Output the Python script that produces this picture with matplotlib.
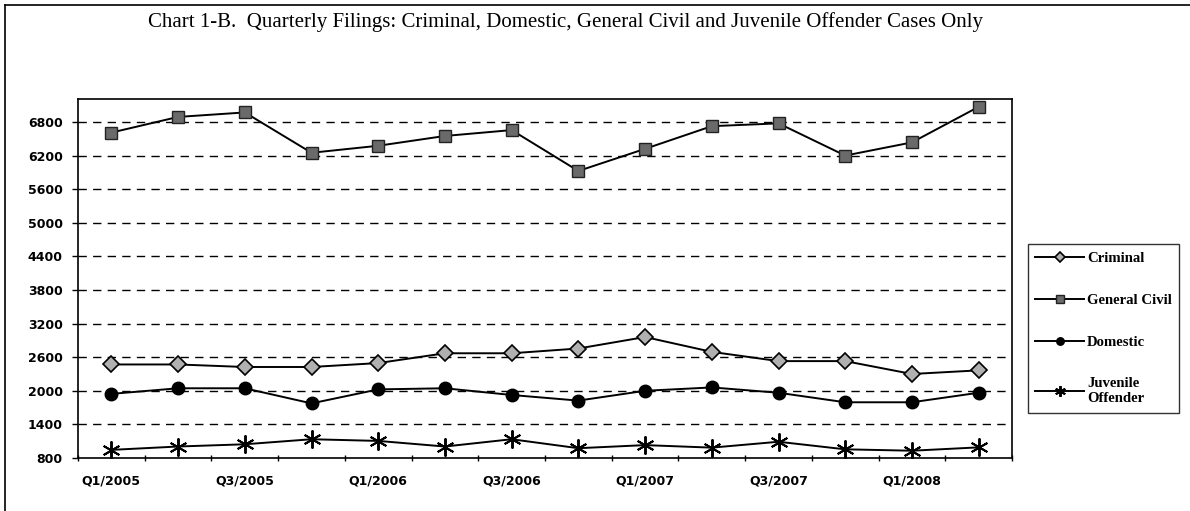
import matplotlib
matplotlib.use("Agg")
import matplotlib.pyplot as plt
from matplotlib.lines import Line2D

quarters = ["Q1/2005", "Q2/2005", "Q3/2005", "Q4/2005",
            "Q1/2006", "Q2/2006", "Q3/2006", "Q4/2006",
            "Q1/2007", "Q2/2007", "Q3/2007", "Q4/2007",
            "Q1/2008", "Q2/2008"]
criminal = [2470, 2470, 2425, 2425, 2495, 2670, 2670, 2755, 2960, 2695, 2530, 2530, 2300, 2365]
general_civil = [6610, 6890, 6970, 6250, 6375, 6550, 6655, 5925, 6320, 6725, 6775, 6200, 6435, 7070]
domestic = [1945, 2045, 2045, 1775, 2025, 2045, 1925, 1825, 2000, 2060, 1965, 1795, 1795, 1965]
juvenile = [945, 1005, 1045, 1135, 1105, 1005, 1135, 975, 1030, 985, 1090, 955, 930, 990]
yticks = [800, 1400, 2000, 2600, 3200, 3800, 4400, 5000, 5600, 6200, 6800]
title = "Chart 1-B.  Quarterly Filings: Criminal, Domestic, General Civil and Juvenile Offender Cases Only"

W, H = 1190, 511
fig = plt.figure(figsize=(W / 100, H / 100), dpi=100)
ax = fig.add_axes([78 / W, 1 - 458 / H, (1012 - 78) / W, (458 - 99) / H])

x = list(range(len(quarters)))
lw = 1.4
ax.plot(x, general_civil, color="black", lw=lw, marker="s", ms=9,
        mfc="#6a6a6a", mec="#222222", mew=1.0, label="General Civil", zorder=3)
ax.plot(x, criminal, color="black", lw=lw, marker="D", ms=8,
        mfc="#b0b0b0", mec="black", mew=1.2, label="Criminal", zorder=3)
ax.plot(x, domestic, color="black", lw=lw, marker="o", ms=9,
        mfc="black", mec="black", label="Domestic", zorder=3)
ax.plot(x, juvenile, color="black", lw=lw, marker=(6, 2, 0), ms=13,
        mfc="black", mec="black", mew=1.4, label="Juvenile\nOffender", zorder=3)

ax.set_xlim(-0.5, len(quarters) - 0.5)
ax.set_ylim(800, 7210)
ax.set_yticks(yticks)
ax.set_yticklabels([str(v) for v in yticks], fontweight="bold", fontsize=9)
for v in yticks[1:]:
    ax.axhline(v, color="black", lw=1.0, ls=(0, (6, 4.5)), zorder=1)

ax.set_xticks(x[::2])
ax.set_xticklabels(quarters[::2], fontweight="bold", fontsize=9)
ax.set_xticks([i - 0.5 for i in range(len(quarters) + 1)], minor=True)
ax.tick_params(axis="x", which="major", length=0, pad=12)
ax.tick_params(axis="x", which="minor", length=5, width=1, direction="inout")
ax.tick_params(axis="y", which="major", length=4, width=1, direction="out", pad=7)
for s in ax.spines.values():
    s.set_color("black")
    s.set_linewidth(1.2)

fig.text(566 / W, 1 - 22 / H, title, ha="center", va="center",
         family="Liberation Serif", fontsize=15)

# order legend as in reference
handles, labels = ax.get_legend_handles_labels()
order = ["Criminal", "General Civil", "Domestic", "Juvenile\nOffender"]
hmap = dict(zip(labels, handles))
leg = fig.legend([hmap[k] for k in order], order, loc="upper left",
                 bbox_to_anchor=(1028 / W, 1 - 244 / H),
                 prop={"family": "Liberation Serif", "weight": "bold", "size": 10.6},
                 frameon=True, fancybox=False, edgecolor="black",
                 handlelength=3.3, handletextpad=0.2, labelspacing=1.95,
                 markerscale=0.6, borderpad=0.5, borderaxespad=0)
leg.get_frame().set_linewidth(1.0)

# outer chart border (left and top visible)
fig.add_artist(Line2D([5 / W, 5 / W], [0, 1 - 5 / H], color="black", lw=1.2))
fig.add_artist(Line2D([5 / W, 1], [1 - 5 / H, 1 - 5 / H], color="black", lw=1.2))

fig.savefig("out.png", dpi=100, facecolor="white")
